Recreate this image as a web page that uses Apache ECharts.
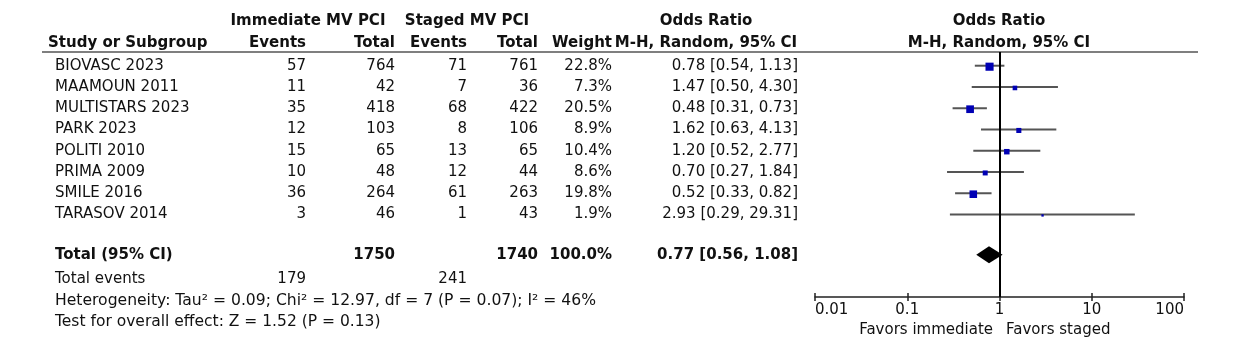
<!DOCTYPE html>
<html lang="en">
<head>
  <meta charset="UTF-8">
  <title>Forest plot</title>
  <style>
      html, body {
          margin: 0;
          padding: 0;
          background: #fff;
      }
      #chart {
          width: 1240px;
          height: 353px;
      }
  </style>
</head>
<body>
<div id="chart"></div>

<script src="https://cdn.jsdelivr.net/npm/echarts@6/dist/echarts.min.js"></script>
<script>

  // study data
  const studies = ['BIOVASC 2023', 'MAAMOUN 2011', 'MULTISTARS 2023', 'PARK 2023', 'POLITI 2010', 'PRIMA 2009', 'SMILE 2016', 'TARASOV 2014'];
  const immEvents = [57, 11, 35, 12, 15, 10, 36, 3];
  const immTotal = [764, 42, 418, 103, 65, 48, 264, 46];
  const stgEvents = [71, 7, 68, 8, 13, 12, 61, 1];
  const stgTotal = [761, 36, 422, 106, 65, 44, 263, 43];
  const weights = [22.8, 7.3, 20.5, 8.9, 10.4, 8.6, 19.8, 1.9];
  const oddsRatio = [0.78, 1.47, 0.48, 1.62, 1.20, 0.70, 0.52, 2.93];
  const ciLow = [0.54, 0.50, 0.31, 0.63, 0.52, 0.27, 0.33, 0.29];
  const ciHigh = [1.13, 4.30, 0.73, 4.13, 2.77, 1.84, 0.82, 29.31];

  // pooled
  const totalImm = 1750;
  const totalStg = 1740;
  const totalWeight = 100.0;
  const pooled = [0.77, 0.56, 1.08];
  const eventsImm = 179;
  const eventsStg = 241;
  const hetText = 'Heterogeneity: Tau\u00b2 = 0.09; Chi\u00b2 = 12.97, df = 7 (P = 0.07); I\u00b2 = 46%';
  const effectText = 'Test for overall effect: Z = 1.52 (P = 0.13)';

  const tickLabels = ['0.01', '0.1', '1', '10', '100'];

  const FONT = '"DejaVu Sans"';
  const INK = '#111';
  const TOTAL_ROW = 8.9;
  // right edges of the table columns
  const COL = {name: 55, imE: 306, imT: 395, stE: 467, stT: 538, w: 612, or: 798};

  const fmtOR = (o, l, h) => o.toFixed(2) + ' [' + l.toFixed(2) + ', ' + h.toFixed(2) + ']';

  const tableRows = studies.map((s, i) => ({
    row: i, bold: false, name: s,
    cells: [immEvents[i], immTotal[i], stgEvents[i], stgTotal[i], weights[i].toFixed(1) + '%', fmtOR(oddsRatio[i], ciLow[i], ciHigh[i])]
  }));
  tableRows.push({
    row: TOTAL_ROW, bold: true, name: 'Total (95% CI)',
    cells: ['', totalImm, '', totalStg, totalWeight.toFixed(1) + '%', fmtOR(pooled[0], pooled[1], pooled[2])]
  });

  function txt(x, y, s, align, bold, size) {
    return {
      type: 'text',
      style: {
        x: x, y: y, text: String(s),
        align: align, textAlign: align,
        verticalAlign: 'middle', textVerticalAlign: 'middle',
        font: (bold ? 'bold ' : '') + (size || 15) + 'px ' + FONT,
        fill: INK
      }
    };
  }

  function renderTable(params, api) {
    const r = tableRows[params.dataIndex];
    const y = api.coord([1, api.value(1)])[1];
    const xs = [COL.imE, COL.imT, COL.stE, COL.stT, COL.w, COL.or];
    const children = [txt(COL.name, y, r.name, 'left', r.bold)];
    r.cells.forEach((c, k) => children.push(txt(xs[k], y, c, 'right', r.bold)));
    return {type: 'group', children: children};
  }

  function renderStudy(params, api) {
    const row = api.value(3);
    const a = api.coord([api.value(1), row]);
    const b = api.coord([api.value(2), row]);
    const c = api.coord([api.value(0), row]);
    const s = 1.7 * Math.sqrt(api.value(4));
    return {
      type: 'group',
      children: [
        {type: 'line', shape: {x1: a[0], y1: a[1], x2: b[0], y2: b[1]}, style: {stroke: '#555', lineWidth: 2}},
        {type: 'rect', shape: {x: c[0] - s / 2, y: c[1] - s / 2 + 1, width: s, height: s}, style: {fill: '#0000b4'}}
      ]
    };
  }

  function renderDiamond(params, api) {
    const row = api.value(3);
    const c = api.coord([api.value(0), row]);
    const l = api.coord([api.value(1), row]);
    const h = api.coord([api.value(2), row]);
    return {
      type: 'polygon',
      shape: {points: [[l[0], c[1]], [c[0], c[1] - 8.5], [h[0], c[1]], [c[0], c[1] + 8.5]]},
      style: {fill: '#000'}
    };
  }

  const axisBase = {
    type: 'log',
    logBase: 10,
    min: 0.01,
    max: 100,
    position: 'bottom',
    offset: 0,
    splitLine: {show: false}
  };

  const option = {
    animation: false,
    grid: {left: 815, right: 56, top: 52, height: 245},
    xAxis: [
      Object.assign({}, axisBase, {
        axisLine: {onZero: false, lineStyle: {color: '#222', width: 1.5}},
        axisTick: {show: true, inside: false, length: 4, lineStyle: {color: '#222', width: 1.5}},
        axisLabel: {
          color: INK, fontSize: 15, fontFamily: 'DejaVu Sans', margin: 6,
          alignMinLabel: 'left', alignMaxLabel: 'right',
          formatter: (v, idx) => tickLabels[idx]
        }
      }),
      Object.assign({}, axisBase, {
        axisLine: {show: false, onZero: false},
        axisTick: {show: true, inside: true, length: 4, lineStyle: {color: '#222', width: 1.5}},
        axisLabel: {show: false}
      })
    ],
    yAxis: {
      type: 'value',
      min: -0.645,
      max: 10.885,
      inverse: true,
      show: false
    },
    graphic: [
      {type: 'line', shape: {x1: 42, y1: 52, x2: 1198, y2: 52}, style: {stroke: '#555', lineWidth: 1.5}},
      txt(308, 21, 'Immediate MV PCI', 'center', true),
      txt(467, 21, 'Staged MV PCI', 'center', true),
      txt(706, 21, 'Odds Ratio', 'center', true),
      txt(999, 21, 'Odds Ratio', 'center', true),
      txt(48, 43, 'Study or Subgroup', 'left', true),
      txt(COL.imE, 43, 'Events', 'right', true),
      txt(COL.imT, 43, 'Total', 'right', true),
      txt(COL.stE, 43, 'Events', 'right', true),
      txt(COL.stT, 43, 'Total', 'right', true),
      txt(COL.w, 43, 'Weight', 'right', true),
      txt(706, 43, 'M-H, Random, 95% CI', 'center', true),
      txt(999, 43, 'M-H, Random, 95% CI', 'center', true),
      txt(COL.name, 279, 'Total events', 'left', false),
      txt(COL.imE, 279, eventsImm, 'right', false),
      txt(COL.stE, 279, eventsStg, 'right', false),
      txt(COL.name, 301, hetText, 'left', false, 15.6),
      txt(COL.name, 322, effectText, 'left', false, 15.5),
      txt(993, 330, 'Favors immediate', 'right', false),
      txt(1006, 330, 'Favors staged', 'left', false)
    ],
    series: [
      {
        type: 'custom',
        clip: false,
        renderItem: renderTable,
        encode: {x: 0, y: 1},
        data: tableRows.map(r => [1, r.row]),
        silent: true
      },
      {
        type: 'custom',
        clip: false,
        renderItem: renderStudy,
        encode: {x: [0, 1, 2], y: 3},
        data: studies.map((s, i) => [oddsRatio[i], ciLow[i], ciHigh[i], i, weights[i]]),
        markLine: {
          silent: true,
          symbol: 'none',
          label: {show: false},
          lineStyle: {color: '#000', width: 2, type: 'solid'},
          data: [{xAxis: 1}]
        }
      },
      {
        type: 'custom',
        clip: false,
        renderItem: renderDiamond,
        encode: {x: [0, 1, 2], y: 3},
        data: [[pooled[0], pooled[1], pooled[2], TOTAL_ROW]]
      }
    ]
  };

  const chart = echarts.init(document.getElementById('chart'));
  chart.setOption(option);

</script>
</body>
</html>
